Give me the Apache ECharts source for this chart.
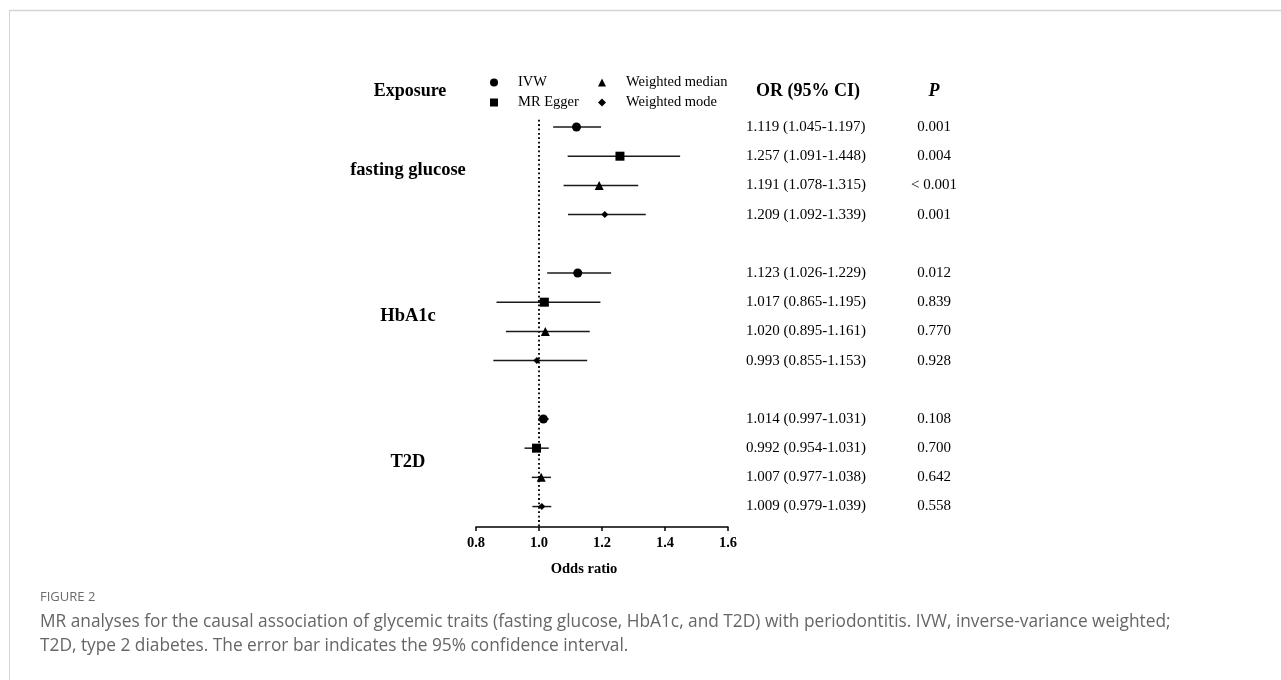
<!DOCTYPE html>
<html>
<head>
<meta charset="utf-8">
<script src="https://cdn.jsdelivr.net/npm/echarts@6/dist/echarts.min.js"></script>
<style>
html,body{margin:0;padding:0;background:#fff;}
#forestChart{width:1281px;height:680px;}
</style>
</head>
<body>
<div id="forestChart"></div>
<script>
// exposures and MR methods
var exposures = ['fasting glucose', 'HbA1c', 'T2D'];
var methods = ['IVW', 'MR Egger', 'Weighted median', 'Weighted mode'];
var methodSymbols = ['circle', 'rect', 'triangle', 'diamond'];
var methodSizes = [9, 9, 9, 7];
// one entry per exposure x method (IVW, MR Egger, Weighted median, Weighted mode)
var orValues = [1.119, 1.257, 1.191, 1.209, 1.123, 1.017, 1.020, 0.993, 1.014, 0.992, 1.007, 1.009];
var ciLower  = [1.045, 1.091, 1.078, 1.092, 1.026, 0.865, 0.895, 0.855, 0.997, 0.954, 0.977, 0.979];
var ciUpper  = [1.197, 1.448, 1.315, 1.339, 1.229, 1.195, 1.161, 1.153, 1.031, 1.031, 1.038, 1.039];
var pValues  = ['0.001', '0.004', '< 0.001', '0.001', '0.012', '0.839', '0.770', '0.928', '0.108', '0.700', '0.642', '0.558'];
var xTicks = [0.8, 1.0, 1.2, 1.4, 1.6];

var serif = "'Times New Roman', 'Liberation Serif', serif";
var forestChart = echarts.init(document.getElementById('forestChart'));

// row of each estimate: 4 methods per exposure + 1 empty row between exposures
function rowOf(i) {
    return Math.floor(i / 4) * 5 + (i % 4);
}

var barData = [];
var tableData = [];
orValues.forEach(function (v, i) {
    barData.push([ciLower[i], ciUpper[i], rowOf(i)]);
    tableData.push([v, rowOf(i)]);
});

var scatterSeries = methods.map(function (m, k) {
    var pts = [];
    orValues.forEach(function (v, i) {
        if (i % 4 === k) pts.push([v, rowOf(i)]);
    });
    return {
        name: m,
        type: 'scatter',
        symbol: methodSymbols[k],
        symbolSize: methodSizes[k],
        itemStyle: { color: '#000', opacity: 1 },
        z: 5,
        data: pts
    };
});

var legendText = { fontFamily: serif, fontSize: 14.5, color: '#000', padding: [0, 0, 0, 15] };

var option = {
    animation: false,
    backgroundColor: '#fff',
    grid: { left: 476, width: 252, top: 112.4, height: 414.6, containLabel: false },
    legend: [{
        data: ['IVW', 'MR Egger'],
        orient: 'vertical',
        left: 490, top: 75,
        padding: 0,
        itemWidth: 8, itemHeight: 8, itemGap: 5,
        textStyle: legendText,
        selectedMode: false
    }, {
        data: ['Weighted median', 'Weighted mode'],
        orient: 'vertical',
        left: 598, top: 75,
        padding: 0,
        itemWidth: 8, itemHeight: 8, itemGap: 5,
        textStyle: legendText,
        selectedMode: false
    }],
    xAxis: {
        type: 'value',
        min: 0.8, max: 1.6, interval: 0.2,
        name: 'Odds ratio',
        nameLocation: 'middle',
        nameGap: 35,
        nameTextStyle: { fontFamily: serif, fontSize: 14.5, fontWeight: 'bold', color: '#000', padding: [0, 36, 0, 0] },
        axisLine: { onZero: false, lineStyle: { color: '#000', width: 1.5 } },
        axisTick: { length: 4, lineStyle: { color: '#000', width: 1.5 } },
        axisLabel: {
            margin: 9,
            fontFamily: serif, fontSize: 14.5, fontWeight: 'bold', color: '#000',
            formatter: function (v) { return v.toFixed(1); }
        },
        splitLine: { show: false }
    },
    yAxis: { type: 'value', inverse: true, min: -0.5, max: 13.7, show: false },
    series: [{
        // 95% CI error bars
        type: 'custom',
        name: 'ci',
        encode: { x: [0, 1], y: 2 },
        data: barData,
        z: 3,
        renderItem: function (params, api) {
            var a = api.coord([api.value(0), api.value(2)]);
            var b = api.coord([api.value(1), api.value(2)]);
            return {
                type: 'line',
                shape: { x1: a[0], y1: a[1], x2: b[0], y2: b[1] },
                style: { stroke: '#1a1a1a', lineWidth: 1.5 }
            };
        },
        markLine: {
            silent: true,
            symbol: 'none',
            label: { show: false },
            lineStyle: { color: '#111', width: 2, type: [1.8, 2.6] },
            data: [[{ coord: [1, -0.25] }, { coord: [1, 13.7] }]]
        }
    }, {
        // OR (95% CI) and P columns
        type: 'custom',
        name: 'table',
        encode: { x: 0, y: 1 },
        data: tableData,
        renderItem: function (params, api) {
            var i = params.dataIndex;
            var y = api.coord([1, api.value(1)])[1];
            var txt = orValues[i].toFixed(3) + ' (' + ciLower[i].toFixed(3) + '-' + ciUpper[i].toFixed(3) + ')';
            return {
                type: 'group',
                children: [{
                    type: 'text',
                    style: { text: txt, x: 746, y: y, align: 'left', verticalAlign: 'middle', font: '15px ' + serif, fill: '#000' }
                }, {
                    type: 'text',
                    style: { text: pValues[i], x: 934, y: y, align: 'center', verticalAlign: 'middle', font: '15px ' + serif, fill: '#000' }
                }]
            };
        }
    }, {
        // exposure labels
        type: 'custom',
        name: 'exposure',
        encode: { x: 0, y: 1 },
        data: exposures.map(function (e, g) { return [1, g * 5 + 1.5]; }),
        renderItem: function (params, api) {
            var y = api.coord([1, api.value(1)])[1];
            return {
                type: 'text',
                style: { text: exposures[params.dataIndex], x: 408, y: y - 1, align: 'center', verticalAlign: 'middle', font: 'bold 18.5px ' + serif, fill: '#000' }
            };
        }
    }].concat(scatterSeries),
    graphic: [
        { type: 'line', shape: { x1: 9, y1: 10.5, x2: 1281, y2: 10.5 }, style: { stroke: '#d4d4d4', lineWidth: 1.5 } },
        { type: 'line', shape: { x1: 9.5, y1: 10, x2: 9.5, y2: 680 }, style: { stroke: '#d4d4d4', lineWidth: 1 } },
        { type: 'text', style: { text: 'Exposure', x: 410, y: 91, align: 'center', verticalAlign: 'middle', font: 'bold 18px ' + serif, fill: '#000' } },
        { type: 'text', style: { text: 'OR (95% CI)', x: 808, y: 91, align: 'center', verticalAlign: 'middle', font: 'bold 18px ' + serif, fill: '#000' } },
        { type: 'text', style: { text: 'P', x: 934, y: 91, align: 'center', verticalAlign: 'middle', font: 'italic bold 18px ' + serif, fill: '#000' } },
        { type: 'text', style: { text: 'FIGURE 2', x: 40, y: 597, verticalAlign: 'middle', font: '13px "Open Sans", sans-serif', fill: '#6b6b6b' } },
        { type: 'text', style: { text: 'MR analyses for the causal association of glycemic traits (fasting glucose, HbA1c, and T2D) with periodontitis. IVW, inverse-variance weighted;', x: 40, y: 622, verticalAlign: 'middle', font: '17.3px "Open Sans", sans-serif', fill: '#666' } },
        { type: 'text', style: { text: 'T2D, type 2 diabetes. The error bar indicates the 95% confidence interval.', x: 40, y: 646, verticalAlign: 'middle', font: '17.3px "Open Sans", sans-serif', fill: '#666' } }
    ]
};
forestChart.setOption(option);
window.addEventListener('resize', function () {
    forestChart.resize();
}, false);
</script>
</body>
</html>
